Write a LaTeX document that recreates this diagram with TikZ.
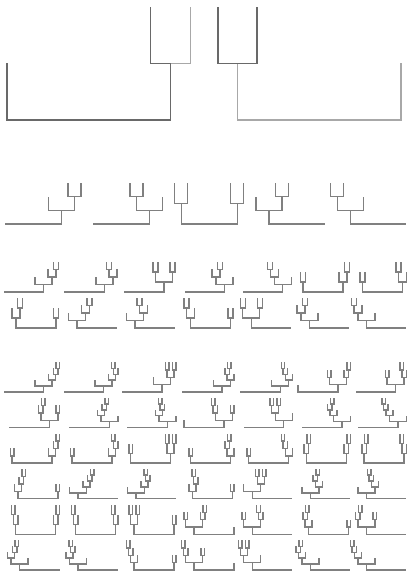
\documentclass[tikz,border=0pt]{standalone}
\usetikzlibrary{trees}
\definecolor{treegray}{RGB}{128,128,128}
\definecolor{treedark}{RGB}{105,105,105}
\definecolor{treepale}{RGB}{168,168,168}

\begin{document}
\begin{tikzpicture}[x=1pt, y=1pt, grow'=up,
  every child node/.style={coordinate},
  edge from parent/.style={draw=treegray, line width=1.4pt},
  edge from parent path={(\tikzparentnode.center) -| (\tikzchildnode.center)},
  nostem/.style={edge from parent path={(\tikzparentnode.center) -- (\tikzchildnode.center |- \tikzparentnode.center)}},
  pale/.style={edge from parent/.append style={draw=treepale}},
  dark/.style={edge from parent/.append style={draw=treedark}}]
\fill[white] (0,0) rectangle (407,572);
\useasboundingbox (0,0) rectangle (407,572);

% three leaves
\begin{scope}[edge from parent/.append style={draw=treedark, line width=1.5pt}]
\node[coordinate] (big1) at (88.75,452) {} [level distance=56.5pt, sibling distance=163.5pt]
  child {node {}}
  child {node {} [sibling distance=40pt] child {node {}} child[pale] {node {}}};
\node[coordinate] (big2) at (319.25,452) {} [level distance=56.5pt, sibling distance=163.5pt]
  child[pale] {node {} [sibling distance=39pt] child[dark] {node {}} child[dark] {node {}}}
  child[pale] {node {}};
\end{scope}

% four leaves
\begin{scope}[b2/.style={sibling distance=13pt}, b3/.style={sibling distance=26pt},
  rt/.style={sibling distance=56pt}, lv2/.style={level distance=20.5pt}, lv3/.style={level distance=13.67pt}]
\node[coordinate] (four1) at (33.4,348) {} [lv3, rt]
  child[nostem] {node {}}
  child {node {} [b3] child {node {}} child {node {} [b2] child {node {}} child {node {}}}};
\node[coordinate] (four2) at (121.3,348) {} [lv3, rt]
  child[nostem] {node {}}
  child {node {} [b3] child {node {} [b2] child {node {}} child {node {}}} child {node {}}};
\node[coordinate] (four3) at (209.2,348) {} [lv2, rt]
  child {node {} [b2] child {node {}} child {node {}}}
  child {node {} [b2] child {node {}} child {node {}}};
\node[coordinate] (four4) at (297.1,348) {} [lv3, rt]
  child {node {} [b3] child {node {}} child {node {} [b2] child {node {}} child {node {}}}}
  child[nostem] {node {}};
\node[coordinate] (four5) at (378.2,348) {} [lv3, rt]
  child {node {} [b3] child {node {} [b2] child {node {}} child {node {}}} child {node {}}}
  child[nostem] {node {}};
\end{scope}

% five leaves
\begin{scope}[b2/.style={sibling distance=5pt}, b3/.style={sibling distance=8pt}, b4/.style={sibling distance=17pt},
  rt/.style={sibling distance=40pt}, lv3/.style={level distance=10pt}, lv4/.style={level distance=7.5pt}]
\node[coordinate] (five11) at (23.6,280) {} [lv4, rt]
  child[nostem] {node {}}
  child {node {} [b4] child {node {}} child {node {} [b3] child {node {}} child {node {} [b2] child {node {}} child {node {}}}}};
\node[coordinate] (five12) at (84.3,280) {} [lv4, rt]
  child[nostem] {node {}}
  child {node {} [b4] child {node {}} child {node {} [b3] child {node {} [b2] child {node {}} child {node {}}} child {node {}}}};
\node[coordinate] (five13) at (143.9,280) {} [lv3, rt]
  child[nostem] {node {}}
  child {node {} [b4] child {node {} [b2] child {node {}} child {node {}}} child {node {} [b2] child {node {}} child {node {}}}};
\node[coordinate] (five14) at (204.6,280) {} [lv4, rt]
  child[nostem] {node {}}
  child {node {} [b4] child {node {} [b3] child {node {}} child {node {} [b2] child {node {}} child {node {}}}} child {node {}}};
\node[coordinate] (five15) at (262.7,280) {} [lv4, rt]
  child[nostem] {node {}}
  child {node {} [b4] child {node {} [b3] child {node {} [b2] child {node {}} child {node {}}} child {node {}}} child {node {}}};
\node[coordinate] (five16) at (322.8,280) {} [lv3, rt]
  child {node {} [b2] child {node {}} child {node {}}}
  child {node {} [b3] child {node {}} child {node {} [b2] child {node {}} child {node {}}}};
\node[coordinate] (five17) at (382.3,280) {} [lv3, rt]
  child {node {} [b2] child {node {}} child {node {}}}
  child {node {} [b3] child {node {} [b2] child {node {}} child {node {}}} child {node {}}};
\node[coordinate] (five21) at (36.1,244) {} [lv3, rt]
  child {node {} [b3] child {node {}} child {node {} [b2] child {node {}} child {node {}}}}
  child {node {} [b2] child {node {}} child {node {}}};
\node[coordinate] (five22) at (96.8,244) {} [lv4, rt]
  child {node {} [b4] child {node {}} child {node {} [b3] child {node {}} child {node {} [b2] child {node {}} child {node {}}}}}
  child[nostem] {node {}};
\node[coordinate] (five23) at (154.9,244) {} [lv4, rt]
  child {node {} [b4] child {node {}} child {node {} [b3] child {node {} [b2] child {node {}} child {node {}}} child {node {}}}}
  child[nostem] {node {}};
\node[coordinate] (five24) at (210.6,244) {} [lv3, rt]
  child {node {} [b3] child {node {} [b2] child {node {}} child {node {}}} child {node {}}}
  child {node {} [b2] child {node {}} child {node {}}};
\node[coordinate] (five25) at (271.2,244) {} [lv3, rt]
  child {node {} [b4] child {node {} [b2] child {node {}} child {node {}}} child {node {} [b2] child {node {}} child {node {}}}}
  child[nostem] {node {}};
\node[coordinate] (five26) at (329.3,244) {} [lv4, rt]
  child {node {} [b4] child {node {} [b3] child {node {}} child {node {} [b2] child {node {}} child {node {}}}} child {node {}}}
  child[nostem] {node {}};
\node[coordinate] (five27) at (386.3,244) {} [lv4, rt]
  child {node {} [b4] child {node {} [b3] child {node {} [b2] child {node {}} child {node {}}} child {node {}}} child {node {}}}
  child[nostem] {node {}};
\end{scope}

% six leaves
\begin{scope}[b2/.style={sibling distance=3.5pt}, b3/.style={sibling distance=4.5pt}, b4/.style={sibling distance=7pt},
  b5/.style={sibling distance=17pt}, rt/.style={sibling distance=40pt},
  lv3/.style={level distance=9.83pt}, lv4/.style={level distance=7.375pt}, lv5/.style={level distance=5.9pt}]
% first row
\node[coordinate] (six11) at (23.6,180) {} [lv5, rt]
  child[nostem] {node {}}
  child {node {} [b5] child {node {}}
    child {node {} [b4] child {node {}} child {node {} [b3] child {node {}} child {node {} [b2] child {node {}} child {node {}}}}}};
\node[coordinate] (six12) at (83.55,180) {} [lv5, rt]
  child[nostem] {node {}}
  child {node {} [b5] child {node {}}
    child {node {} [b4] child {node {}} child {node {} [b3] child {node {} [b2] child {node {}} child {node {}}} child {node {}}}}};
\node[coordinate] (six13) at (142.15,180) {} [lv4, rt]
  child[nostem] {node {}}
  child {node {} [b5] child {node {}}
    child {node {} [b4] child {node {} [b2] child {node {}} child {node {}}} child {node {} [b2] child {node {}} child {node {}}}}};
\node[coordinate] (six14) at (202.1,180) {} [lv5, rt]
  child[nostem] {node {}}
  child {node {} [b5] child {node {}}
    child {node {} [b4] child {node {} [b3] child {node {}} child {node {} [b2] child {node {}} child {node {}}}} child {node {}}}};
\node[coordinate] (six15) at (260.2,180) {} [lv5, rt]
  child[nostem] {node {}}
  child {node {} [b5] child {node {}}
    child {node {} [b4] child {node {} [b3] child {node {} [b2] child {node {}} child {node {}}} child {node {}}} child {node {}}}};
\node[coordinate] (six16) at (317.8,180) {} [lv4, rt]
  child {node {}}
  child {node {} [b5] child {node {} [b2] child {node {}} child {node {}}}
    child {node {} [b3] child {node {}} child {node {} [b2] child {node {}} child {node {}}}}};
\node[coordinate] (six17) at (375.55,180) {} [lv4, rt]
  child[nostem] {node {}}
  child {node {} [b5] child {node {} [b2] child {node {}} child {node {}}}
    child {node {} [b3] child {node {} [b2] child {node {}} child {node {}}} child {node {}}}};
% second row
\node[coordinate] (six21) at (29.35,144.4) {} [lv4, rt]
  child[nostem] {node {}}
  child {node {} [b5] child {node {} [b3] child {node {}} child {node {} [b2] child {node {}} child {node {}}}}
    child {node {} [b2] child {node {}} child {node {}}}};
\node[coordinate] (six22) at (89.3,144.4) {} [lv5, rt]
  child[nostem] {node {}}
  child {node {} [b5] child {node {} [b4] child {node {}} child {node {} [b3] child {node {}} child {node {} [b2] child {node {}} child {node {}}}}}
    child {node {}}};
\node[coordinate] (six23) at (147.4,144.4) {} [lv5, rt]
  child[nostem] {node {}}
  child {node {} [b5] child {node {} [b4] child {node {}} child {node {} [b3] child {node {} [b2] child {node {}} child {node {}}} child {node {}}}}
    child {node {}}};
\node[coordinate] (six24) at (203.85,144.4) {} [lv4, rt]
  child {node {}}
  child {node {} [b5] child {node {} [b3] child {node {} [b2] child {node {}} child {node {}}} child {node {}}}
    child {node {} [b2] child {node {}} child {node {}}}};
\node[coordinate] (six25) at (263.7,144.4) {} [lv4, rt]
  child[nostem] {node {}}
  child {node {} [b5] child {node {} [b4] child {node {} [b2] child {node {}} child {node {}}} child {node {} [b2] child {node {}} child {node {}}}}
    child {node {}}};
\node[coordinate] (six26) at (321.8,144.4) {} [lv5, rt]
  child[nostem] {node {}}
  child {node {} [b5] child {node {} [b4] child {node {} [b3] child {node {}} child {node {} [b2] child {node {}} child {node {}}}} child {node {}}}
    child {node {}}};
\node[coordinate] (six27) at (377.8,144.4) {} [lv5, rt]
  child[nostem] {node {}}
  child {node {} [b5] child {node {} [b4] child {node {} [b3] child {node {} [b2] child {node {}} child {node {}}} child {node {}}} child {node {}}}
    child {node {}}};
% third row
\node[coordinate] (six31) at (32.1,108.8) {} [lv4, rt]
  child {node {} [b2] child {node {}} child {node {}}}
  child {node {} [b4] child {node {}} child {node {} [b3] child {node {}} child {node {} [b2] child {node {}} child {node {}}}}};
\node[coordinate] (six32) at (92.05,108.8) {} [lv4, rt]
  child {node {} [b2] child {node {}} child {node {}}}
  child {node {} [b4] child {node {}} child {node {} [b3] child {node {} [b2] child {node {}} child {node {}}} child {node {}}}};
\node[coordinate] (six33) at (150.65,108.8) {} [lv3, rt]
  child {node {} [b2] child {node {}} child {node {}}}
  child {node {} [b4] child {node {} [b2] child {node {}} child {node {}}} child {node {} [b2] child {node {}} child {node {}}}};
\node[coordinate] (six34) at (210.6,108.8) {} [lv4, rt]
  child {node {} [b2] child {node {}} child {node {}}}
  child {node {} [b4] child {node {} [b3] child {node {}} child {node {} [b2] child {node {}} child {node {}}}} child {node {}}};
\node[coordinate] (six35) at (268.7,108.8) {} [lv4, rt]
  child {node {} [b2] child {node {}} child {node {}}}
  child {node {} [b4] child {node {} [b3] child {node {} [b2] child {node {}} child {node {}}} child {node {}}} child {node {}}};
\node[coordinate] (six36) at (326.3,108.8) {} [lv3, rt]
  child {node {} [b3] child {node {}} child {node {} [b2] child {node {}} child {node {}}}}
  child {node {} [b3] child {node {}} child {node {} [b2] child {node {}} child {node {}}}};
\node[coordinate] (six37) at (384.05,108.8) {} [lv3, rt]
  child {node {} [b3] child {node {}} child {node {} [b2] child {node {}} child {node {}}}}
  child {node {} [b3] child {node {} [b2] child {node {}} child {node {}}} child {node {}}};
% fourth row
\node[coordinate] (six41) at (37.85,73.2) {} [lv4, rt]
  child {node {} [b4] child {node {}} child {node {} [b3] child {node {}} child {node {} [b2] child {node {}} child {node {}}}}}
  child {node {} [b2] child {node {}} child {node {}}};
\node[coordinate] (six42) at (97.8,73.2) {} [lv5, rt]
  child {node {} [b5] child {node {}}
    child {node {} [b4] child {node {}} child {node {} [b3] child {node {}} child {node {} [b2] child {node {}} child {node {}}}}}}
  child[nostem] {node {}};
\node[coordinate] (six43) at (155.9,73.2) {} [lv5, rt]
  child {node {} [b5] child {node {}}
    child {node {} [b4] child {node {}} child {node {} [b3] child {node {} [b2] child {node {}} child {node {}}} child {node {}}}}}
  child[nostem] {node {}};
\node[coordinate] (six44) at (212.35,73.2) {} [lv4, rt]
  child {node {} [b4] child {node {}} child {node {} [b3] child {node {} [b2] child {node {}} child {node {}}} child {node {}}}}
  child {node {} [b2] child {node {}} child {node {}}};
\node[coordinate] (six45) at (272.2,73.2) {} [lv4, rt]
  child {node {} [b5] child {node {}}
    child {node {} [b4] child {node {} [b2] child {node {}} child {node {}}} child {node {} [b2] child {node {}} child {node {}}}}}
  child[nostem] {node {}};
\node[coordinate] (six46) at (330.3,73.2) {} [lv5, rt]
  child {node {} [b5] child {node {}}
    child {node {} [b4] child {node {} [b3] child {node {}} child {node {} [b2] child {node {}} child {node {}}}} child {node {}}}}
  child[nostem] {node {}};
\node[coordinate] (six47) at (386.3,73.2) {} [lv5, rt]
  child {node {} [b5] child {node {}}
    child {node {} [b4] child {node {} [b3] child {node {} [b2] child {node {}} child {node {}}} child {node {}}} child {node {}}}}
  child[nostem] {node {}};
% fifth row
\node[coordinate] (six51) at (35.6,37.6) {} [lv3, rt]
  child {node {} [b3] child {node {} [b2] child {node {}} child {node {}}} child {node {}}}
  child {node {} [b3] child {node {}} child {node {} [b2] child {node {}} child {node {}}}};
\node[coordinate] (six52) at (95.55,37.6) {} [lv3, rt]
  child {node {} [b3] child {node {} [b2] child {node {}} child {node {}}} child {node {}}}
  child {node {} [b3] child {node {} [b2] child {node {}} child {node {}}} child {node {}}};
\node[coordinate] (six53) at (154.15,37.6) {} [lv3, rt]
  child {node {} [b4] child {node {} [b2] child {node {}} child {node {}}} child {node {} [b2] child {node {}} child {node {}}}}
  child {node {} [b2] child {node {}} child {node {}}};
\node[coordinate] (six54) at (214.1,37.6) {} [lv4, rt]
  child {node {} [b5] child {node {} [b2] child {node {}} child {node {}}}
    child {node {} [b3] child {node {}} child {node {} [b2] child {node {}} child {node {}}}}}
  child {node {}};
\node[coordinate] (six55) at (272.2,37.6) {} [lv4, rt]
  child {node {} [b5] child {node {} [b2] child {node {}} child {node {}}}
    child {node {} [b3] child {node {} [b2] child {node {}} child {node {}}} child {node {}}}}
  child[nostem] {node {}};
\node[coordinate] (six56) at (328.55,37.6) {} [lv4, rt]
  child {node {} [b4] child {node {} [b3] child {node {}} child {node {} [b2] child {node {}} child {node {}}}} child {node {}}}
  child {node {} [b2] child {node {}} child {node {}}};
\node[coordinate] (six57) at (386.3,37.6) {} [lv4, rt]
  child {node {} [b5] child {node {} [b3] child {node {}} child {node {} [b2] child {node {}} child {node {}}}}
    child {node {} [b2] child {node {}} child {node {}}}}
  child[nostem] {node {}};
% sixth row
\node[coordinate] (six61) at (39.6,2) {} [lv5, rt]
  child {node {} [b5] child {node {} [b4] child {node {}} child {node {} [b3] child {node {}} child {node {} [b2] child {node {}} child {node {}}}}}
    child {node {}}}
  child[nostem] {node {}};
\node[coordinate] (six62) at (97.8,2) {} [lv5, rt]
  child {node {} [b5] child {node {} [b4] child {node {}} child {node {} [b3] child {node {} [b2] child {node {}} child {node {}}} child {node {}}}}
    child {node {}}}
  child[nostem] {node {}};
\node[coordinate] (six63) at (154.15,2) {} [lv4, rt]
  child {node {} [b4] child {node {} [b3] child {node {} [b2] child {node {}} child {node {}}} child {node {}}} child {node {}}}
  child {node {} [b2] child {node {}} child {node {}}};
\node[coordinate] (six64) at (214.1,2) {} [lv4, rt]
  child {node {} [b5] child {node {} [b3] child {node {} [b2] child {node {}} child {node {}}} child {node {}}}
    child {node {} [b2] child {node {}} child {node {}}}}
  child {node {}};
\node[coordinate] (six65) at (272.2,2) {} [lv4, rt]
  child {node {} [b5] child {node {} [b4] child {node {} [b2] child {node {}} child {node {}}} child {node {} [b2] child {node {}} child {node {}}}}
    child {node {}}}
  child[nostem] {node {}};
\node[coordinate] (six66) at (330.3,2) {} [lv5, rt]
  child {node {} [b5] child {node {} [b4] child {node {} [b3] child {node {}} child {node {} [b2] child {node {}} child {node {}}}} child {node {}}}
    child {node {}}}
  child[nostem] {node {}};
\node[coordinate] (six67) at (386.3,2) {} [lv5, rt]
  child {node {} [b5] child {node {} [b4] child {node {} [b3] child {node {} [b2] child {node {}} child {node {}}} child {node {}}} child {node {}}}
    child {node {}}}
  child[nostem] {node {}};
\end{scope}
\end{tikzpicture}
\end{document}
